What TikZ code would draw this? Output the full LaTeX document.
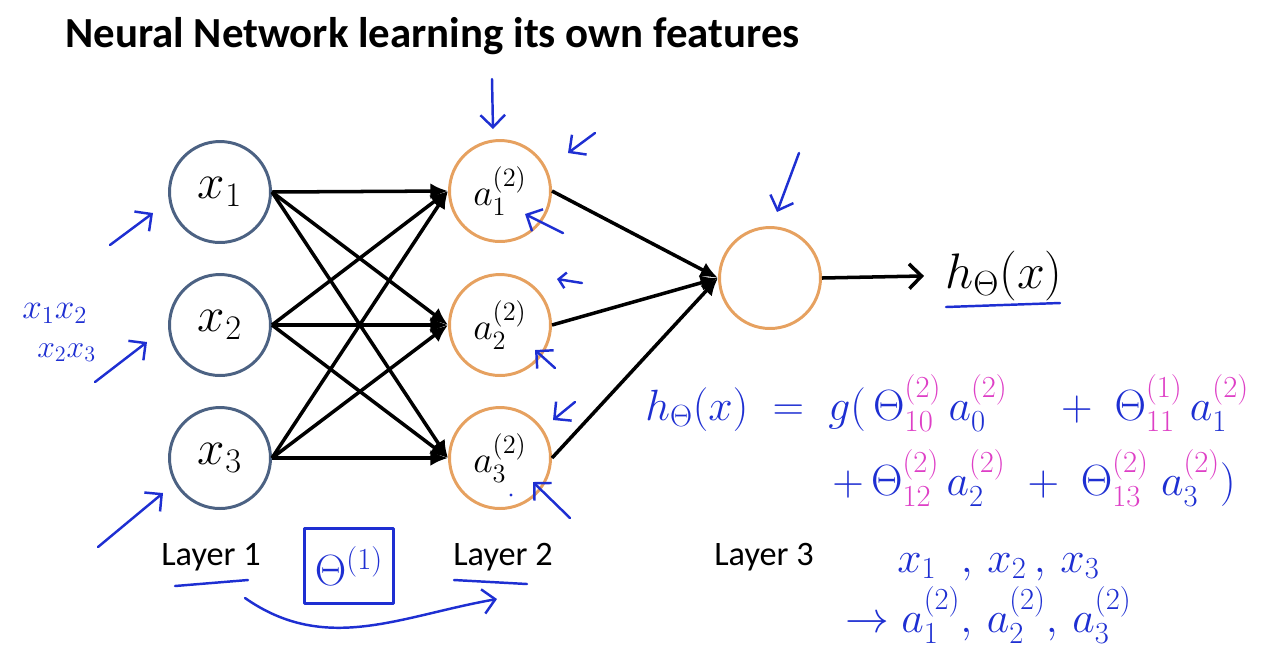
\documentclass[tikz,border=0pt]{standalone}
\usepackage{fix-cm}
\usepackage{fontspec}
\setmainfont{Carlito}
\usepackage{amsmath}
\usepackage{amssymb}
\usepackage{xcolor}
\usetikzlibrary{positioning,arrows.meta}
\definecolor{slate}{HTML}{4C6283}
\definecolor{peach}{HTML}{E6A160}
\definecolor{ink}{HTML}{1E2FD2}
\definecolor{pinkink}{HTML}{DE3FC6}
\newcommand{\pk}[1]{\textcolor{pinkink}{#1}}
\tikzset{
	neuron/.style={circle, line width=1.7pt, minimum size=2.02cm, inner sep=0pt},
	inneuron/.style={neuron, draw=slate, font=\fontsize{28}{32}\selectfont},
	hidneuron/.style={neuron, draw=peach, font=\fontsize{21.5}{24}\selectfont},
	wire/.style={line width=2pt, -{Latex[length=10pt,width=9pt]}},
	layername/.style={font=\fontsize{19.5}{23}\selectfont, anchor=base, inner sep=0pt},
	pen/.style={draw=ink, line width=1.4pt, line cap=round, line join=round},
	penarrow/.style={pen, -{Straight Barb[length=7pt,width=14pt]}},
	scrawl/.style={text=ink, anchor=base west, inner sep=0pt}
}

\begin{document}
\begin{tikzpicture}[x=0.02cm, y=-0.02cm]

	\useasboundingbox (0,0) rectangle (1280,654);

	\node[anchor=base west, inner sep=0pt, font=\bfseries\fontsize{24.4}{28}\selectfont] (title) at (65,47) {Neural Network learning its own features};

	\node[inneuron] (x1) at (220,192) {$x_1$};
	\node[inneuron] (x2) at (220,325) {$x_2$};
	\node[inneuron] (x3) at (220,458) {$x_3$};

	\node[hidneuron] (a1) at (500,191) {$a^{(2)}_1$};
	\node[hidneuron] (a2) at (500,325) {$a^{(2)}_2$};
	\node[hidneuron] (a3) at (500,458) {$a^{(2)}_3$};

	\node[hidneuron] (out) at (770,278) {};
	\node[anchor=base west, inner sep=0pt, font=\fontsize{28.4}{32}\selectfont] (h) at (945,288) {$h_\Theta(x)$};

	\node[layername] (lay1) at (211,565) {Layer 1};
	\node[layername] (lay2) at (503,565) {Layer 2};
	\node[layername] (lay3) at (764,565) {Layer 3};

	\draw[wire] (x1.east) -- (a1.west);
	\draw[wire] (x1.east) -- (a2.west);
	\draw[wire] (x1.east) -- (a3.west);
	\draw[wire] (x2.east) -- (a1.west);
	\draw[wire] (x2.east) -- (a2.west);
	\draw[wire] (x2.east) -- (a3.west);
	\draw[wire] (x3.east) -- (a1.west);
	\draw[wire] (x3.east) -- (a2.west);
	\draw[wire] (x3.east) -- (a3.west);

	\draw[wire] (a1.east) -- (out.west);
	\draw[wire] (a2.east) -- (out.west);
	\draw[wire] (a3.east) -- (out.west);

	\draw[line width=2pt, -{Straight Barb[length=7pt,width=14pt]}, shorten >=0.42cm] (out.east) -- (h.west);

	\coordinate (t1) at (492,79);   \coordinate (p1) at (493,129);
	\coordinate (t2) at (595,133);  \coordinate (p2) at (568,153);
	\coordinate (t3) at (563,233);  \coordinate (p3) at (525,214);
	\coordinate (t4) at (582,283);  \coordinate (p4) at (557,279);
	\coordinate (t5) at (555,368);  \coordinate (p5) at (535,350);
	\coordinate (t6) at (575,402);  \coordinate (p6) at (553,420);
	\coordinate (t7) at (570,518);  \coordinate (p7) at (533,482);
	\coordinate (t8) at (110,245);  \coordinate (p8) at (153,213);
	\coordinate (t9) at (95,382);   \coordinate (p9) at (147,342);
	\coordinate (t10) at (98,547);  \coordinate (p10) at (163,493);
	\coordinate (t11) at (799,153); \coordinate (p11) at (777,212);

	\draw[penarrow] (t1) -- (p1);
	\draw[penarrow] (t2) -- (p2);
	\draw[penarrow] (t3) -- (p3);
	\draw[pen, -{Straight Barb[length=4pt,width=9pt]}] (t4) -- (p4);
	\draw[penarrow] (t5) -- (p5);
	\draw[penarrow] (t6) -- (p6);
	\draw[penarrow] (t7) -- (p7);
	\draw[penarrow] (t8) -- (p8);
	\draw[penarrow] (t9) -- (p9);
	\draw[penarrow] (t10) -- (p10);
	\draw[penarrow] (t11) -- (p11);

	\fill[ink] (511,495) circle (1.6);

	\node[scrawl, font=\fontsize{20}{24}\selectfont] (pair1) at (22,318) {$x_1x_2$};
	\node[scrawl, font=\fontsize{18}{22}\selectfont] (pair2) at (37,357) {$x_2x_3$};

	\draw[pen] (175,586) -- (248,580);
	\draw[pen] (454,580) -- (527,584);
	\draw[pen] (946,307) -- (1060,303);

	\node[pen, text=ink, minimum width=1.78cm, minimum height=1.5cm, font=\fontsize{24.9}{28}\selectfont] (theta1) at (349,566) {$\Theta^{(1)}$};

	\coordinate (c1) at (245,598);
	\coordinate (c2) at (497,599);
	\draw[penarrow] (c1) to[out=-35, in=190] (c2);

	\node[scrawl, font=\fontsize{24.9}{28}\selectfont] (eq1) at (645,420) {$h_\Theta(x) \;=\; g(\,\Theta^{\pk{(2)}}_{\pk{10}}\,a_0^{\pk{(2)}} \quad+\; \Theta^{\pk{(1)}}_{\pk{11}}\,a_1^{\pk{(2)}}$};
	\node[scrawl, font=\fontsize{24.9}{28}\selectfont] (eq2) at (832,495) {$+\,\Theta^{\pk{(2)}}_{\pk{12}}\,a_2^{\pk{(2)}} \;+\; \Theta^{\pk{(2)}}_{\pk{13}}\;a_3^{\pk{(2)}})$};

	\node[scrawl, font=\fontsize{24.9}{28}\selectfont] (ins) at (897,572) {$x_1\;\;,\,x_2\,,\,x_3$};
	\node[scrawl, font=\fontsize{24.9}{28}\selectfont] (acts) at (845,632) {$\to a_1^{(2)},\,a_2^{(2)},\,a_3^{(2)}$};

\end{tikzpicture}
\end{document}
